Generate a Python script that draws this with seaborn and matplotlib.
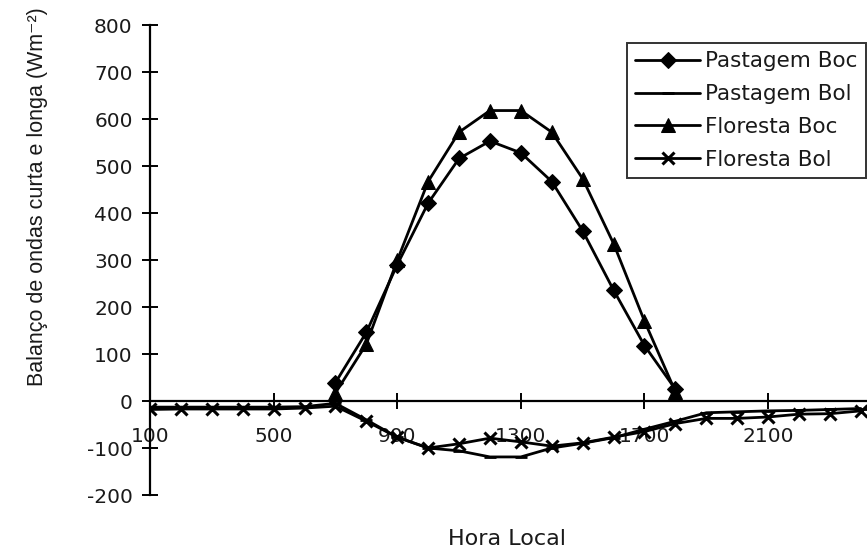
import numpy as np
import pandas as pd
import matplotlib
matplotlib.use("Agg")
import matplotlib.pyplot as plt
import seaborn as sns

sns.set_theme(style="white")
plt.rcParams["font.family"] = ["DejaVu Sans"]
plt.rcParams["axes.unicode_minus"] = False

# Hourly local time
hours_all = [100, 200, 300, 400, 500, 600, 700, 800, 900, 1000, 1100, 1200,
             1300, 1400, 1500, 1600, 1700, 1800, 1900, 2000, 2100, 2200, 2300, 2400]
hours_day = [700, 800, 900, 1000, 1100, 1200, 1300, 1400, 1500, 1600, 1700, 1800]

# Shortwave balance (daytime only)
pastagem_boc = [39, 146, 290, 421, 516, 553, 528, 467, 362, 236, 118, 25]
floresta_boc = [17, 121, 299, 467, 572, 618, 618, 572, 473, 335, 170, 20]

# Longwave balance (full day)
pastagem_bol = [-13, -13, -13, -13, -13, -12, -5, -40, -77, -100, -106, -119,
                -119, -100, -90, -78, -60, -43, -25, -23, -21, -20, -18, -16]
floresta_bol = [-18, -17, -17, -17, -17, -15, -11, -43, -77, -100, -91, -79,
                -87, -96, -89, -77, -65, -48, -37, -37, -34, -28, -27, -21]

x_ticks = [100, 500, 900, 1300, 1700, 2100]
y_ticks = [-200, -100, 0, 100, 200, 300, 400, 500, 600, 700, 800]

fig = plt.figure(figsize=(8.67, 5.57), dpi=100)
ax = fig.add_axes([0.173, 0.1113, 0.827, 0.8438])

series = [
    ("Pastagem Boc", hours_day, pastagem_boc, dict(marker="D", markersize=8)),
    ("Pastagem Bol", hours_all, pastagem_bol, dict(marker="_", markersize=9, markeredgewidth=2)),
    ("Floresta Boc", hours_day, floresta_boc, dict(marker="^", markersize=10)),
    ("Floresta Bol", hours_all, floresta_bol, dict(marker="x", markersize=9, markeredgewidth=2.2)),
]

for name, xs, ys, mk in series:
    df = pd.DataFrame({"hora": xs, "valor": ys})
    sns.lineplot(data=df, x="hora", y="valor", ax=ax, color="black", linewidth=2,
                 label=name, markeredgecolor="black", markerfacecolor="black", **mk)

ax.set_xlim(100, 2420)
ax.set_ylim(-200, 800)
ax.set_xticks(x_ticks)
ax.set_xticklabels([str(t) for t in x_ticks])
ax.set_yticks(y_ticks)

for side in ["top", "right"]:
    ax.spines[side].set_visible(False)
ax.spines["bottom"].set_position(("data", 0))
ax.spines["left"].set_position(("data", 100))
for side in ["left", "bottom"]:
    ax.spines[side].set_color("black")
    ax.spines[side].set_linewidth(1.6)

ax.tick_params(axis="both", left=True, bottom=True, direction="inout", length=11,
               width=1.4, colors="black", labelsize=14.5, labelcolor="#1a1a1a")
ax.tick_params(axis="y", pad=7)
ax.tick_params(axis="x", pad=13)
ax.set_xlabel("")
ax.set_ylabel("")

fig.text(507 / 867, 1 - 539 / 557, "Hora Local", fontsize=16, ha="center", va="center",
         color="#1a1a1a")
fig.text(38 / 867, 1 - 197 / 557, "Balanço de ondas curta e longa (Wm⁻²)", fontsize=15.5,
         family=["Liberation Sans", "DejaVu Sans"],
         rotation=90, ha="center", va="center", color="#1a1a1a")

leg = ax.legend(loc="upper right", bbox_to_anchor=(866 / 867, 1 - 43 / 557),
                bbox_transform=fig.transFigure, frameon=True, fancybox=False,
                fontsize=15.5, handlelength=3.0, handletextpad=0.25, borderpad=0.38,
                labelspacing=0.6, borderaxespad=0.0)
leg.get_frame().set_edgecolor("black")
leg.get_frame().set_linewidth(1.4)
for t in leg.get_texts():
    t.set_color("#1a1a1a")

fig.savefig("out.png", dpi=100, facecolor="white")
